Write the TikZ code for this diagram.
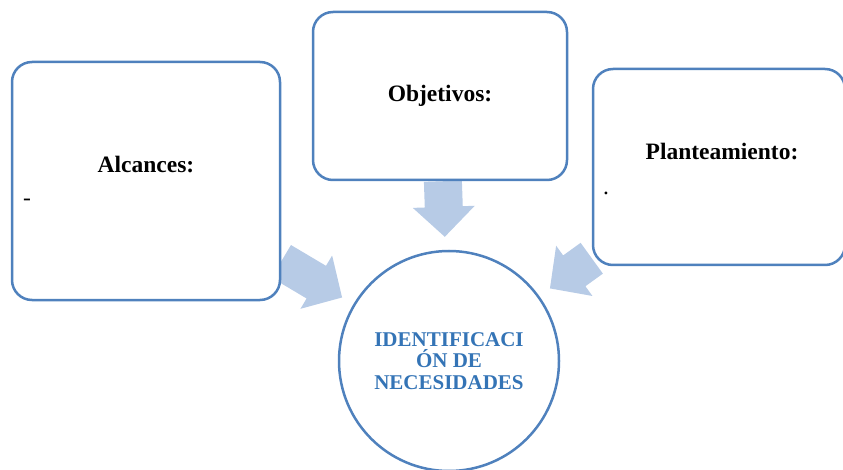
\documentclass[tikz,border=0pt]{standalone}
\usepackage{fontspec}
\setmainfont{Liberation Serif}
\usetikzlibrary{calc,backgrounds}
\definecolor{boxblue}{RGB}{79,129,189}
\definecolor{arrowblue}{RGB}{183,203,230}
\definecolor{textblue}{RGB}{52,116,182}
\tikzset{
  topicbox/.style={draw=boxblue,line width=2.5pt,fill=white,rounded corners=20pt,inner sep=0pt},
  titletext/.style={font=\fontsize{23.5}{26}\selectfont\bfseries,inner sep=0pt},
  blockarrow/.style={fill=arrowblue}
}
% wide arrow from the border of #1 towards the border of #2
\newcommand\widearrow[2]{%
  \path (#1) -- coordinate[pos=0] (#1-s) coordinate[pos=1] (#1-e) (#2);
  \fill[blockarrow] let \p1=(#1-s), \p2=(#1-e),
    \n1={atan2(\y2-\y1,\x2-\x1)}, \n2={veclen(\x2-\x1,\y2-\y1)} in
    [shift={(\p1)},rotate=\n1]
    (0pt,19pt) -- ({(\n2-43)*1pt},19pt) -- ({(\n2-43)*1pt},31pt)
    -- ({(\n2-13)*1pt},0pt)
    -- ({(\n2-43)*1pt},-31pt) -- ({(\n2-43)*1pt},-19pt) -- (0pt,-19pt) -- cycle;
}
\begin{document}
\begin{tikzpicture}[x=1pt,y=-1pt]
\useasboundingbox (0,0) rectangle (843,470);
% boxes
\node[topicbox,minimum width=268pt,minimum height=238pt] (alc) at (146,181) {};
\node[topicbox,minimum width=254pt,minimum height=168pt] (obj) at (440,96) {};
\node[topicbox,minimum width=252pt,minimum height=196pt] (pla) at (719,167) {};
\node[circle,draw=boxblue,line width=2.5pt,fill=white,minimum size=220pt,inner sep=0pt,
  align=center,text=textblue,font=\fontsize{21}{21.5}\selectfont\bfseries] (nec) at (449,361)
  {IDENTIFICACI\\ÓN DE\\NECESIDADES};
% texts
\node[titletext,anchor=base] (alct) at (146,173) {Alcances:};
\node[titletext,anchor=base] (objt) at (440,102) {Objetivos:};
\node[titletext,anchor=base] (plat) at (722,160) {Planteamiento:};
\node[font=\fontsize{23.5}{26}\selectfont,anchor=base west,inner sep=0pt] (alcd) at (23,206) {-};
\node[font=\fontsize{23.5}{26}\selectfont,anchor=base west,inner sep=0pt] (plad) at (603,195) {.};
% arrows
\begin{scope}[on background layer]
\widearrow{alc}{nec}
\widearrow{obj}{nec}
\widearrow{pla}{nec}
\end{scope}
\end{tikzpicture}
\end{document}
